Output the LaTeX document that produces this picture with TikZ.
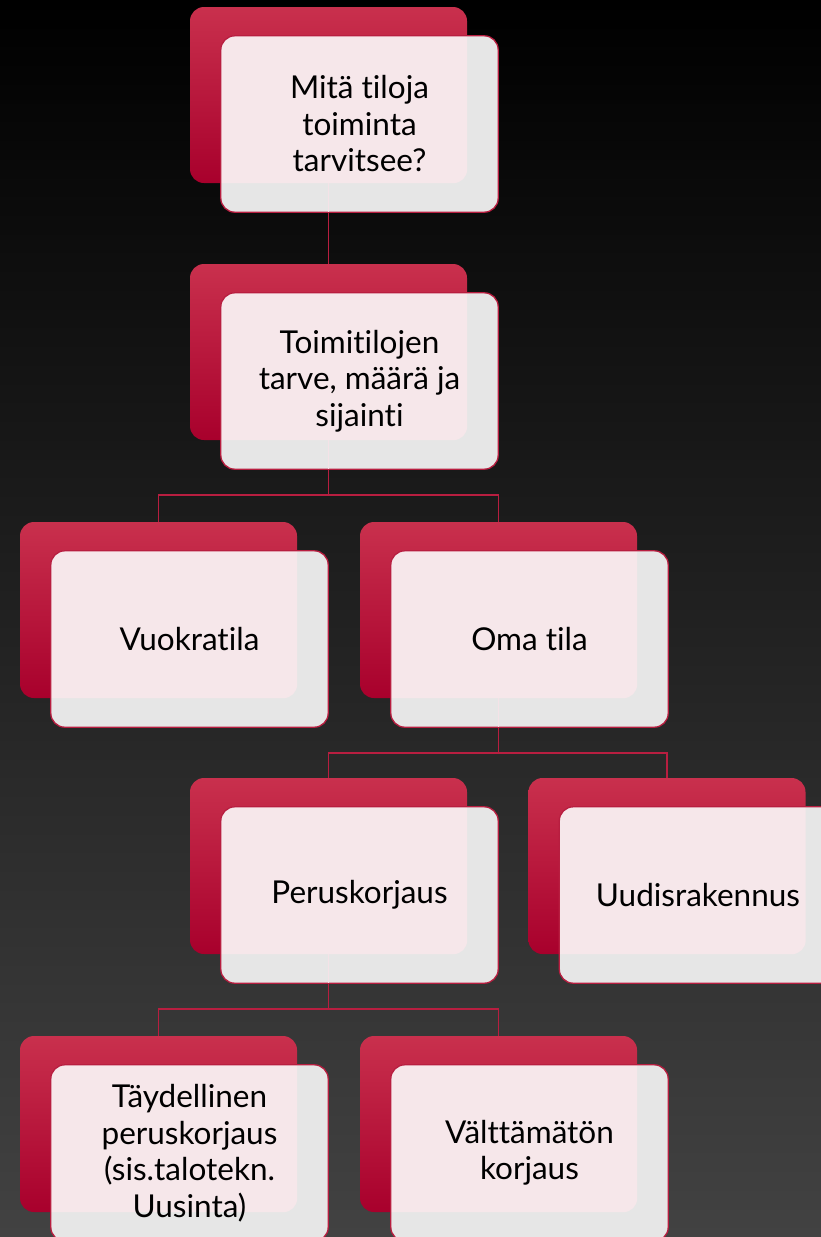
\documentclass[tikz,border=0pt]{standalone}
\usepackage{fontspec}
\setmainfont{Lato}[Ligatures=NoCommon]
\definecolor{bgtop}{HTML}{000000}
\definecolor{bgbot}{HTML}{424242}
\definecolor{redtop}{HTML}{C9304D}
\definecolor{redbot}{HTML}{A8002C}
\definecolor{frontgray}{HTML}{E6E6E6}
\definecolor{pinkfill}{HTML}{F6E7EA}
\definecolor{crimson}{HTML}{B81E40}
\definecolor{faint}{HTML}{F4E2E7}
\tikzset{
  backbox/.style={rectangle, rounded corners=14pt, minimum width=277pt, minimum height=176pt, top color=redtop, bottom color=redbot, draw=none, inner sep=0pt},
  frontbox/.style={rectangle, rounded corners=14pt, minimum width=277pt, minimum height=176pt, fill=frontgray, draw=none, inner sep=0pt},
  frontborder/.style={draw=crimson, line width=1.3pt, rounded corners=14pt},
  boxtext/.style={align=center, font=\fontsize{31.5}{36.5}\selectfont, text=black, inner sep=0pt},
  conn/.style={draw=crimson, line width=1.5pt},
  faintline/.style={draw=faint, line width=1.5pt}
}
\newcommand\boxunit[4]{%
  \node[backbox] (#1b) at (#2,#3) {};
  \node[frontbox] (#1f) at (#2+31,#3+29) {};
  \begin{scope}
    \clip[rounded corners=14pt] (#1f.south west) rectangle (#1f.north east);
    \fill[pinkfill, rounded corners=14pt] (#1b.south west) rectangle (#1b.north east);
  \end{scope}
  \draw[frontborder] (#1f.south west) rectangle (#1f.north east);
  \node[boxtext] (#1) at (#1f.center) {#4};
}
\begin{document}
\begin{tikzpicture}[x=1pt,y=-1pt]
\shade[top color=bgtop, bottom color=bgbot] (0,0) rectangle (821,1237);
\useasboundingbox (0,0) rectangle (821,1237);
\boxunit{n1}{328.5}{95}{Mitä tiloja\\toiminta\\tarvitsee?}
\boxunit{n2}{328.5}{352}{Toimitilojen\\tarve, määrä ja\\sijainti}
\boxunit{n3}{158.5}{610}{Vuokratila}
\boxunit{n4}{498.5}{610}{Oma tila}
\boxunit{n5}{328.5}{866}{Peruskorjaus}
\boxunit{n6}{667}{866}{Uudisrakennus}
\boxunit{n7}{158.5}{1124}{Täydellinen\\peruskorjaus\\(sis.talotekn.\\Uusinta)}
\boxunit{n8}{498.5}{1124}{Välttämätön\\korjaus}
% faint parts of connectors seen through the front boxes
\foreach \n in {n1,n2,n4,n5}{
  \draw[faintline] (\n b.south) -- (\n b.south |- \n f.south);
}
% connectors
\draw[conn] (n1b.south |- n1f.south) -- (n2b.north);
\coordinate (j2) at (328.5,495);
\draw[conn] (n2b.south |- n2f.south) -- (j2);
\draw[conn] (n3b.north) |- (j2) -| (n4b.north);
\coordinate (j4) at (498.5,753);
\draw[conn] (n4b.south |- n4f.south) -- (j4);
\draw[conn] (n5b.north) |- (j4) -| (n6b.north);
\coordinate (j5) at (328.5,1009);
\draw[conn] (n5b.south |- n5f.south) -- (j5);
\draw[conn] (n7b.north) |- (j5) -| (n8b.north);
\end{tikzpicture}
\end{document}
